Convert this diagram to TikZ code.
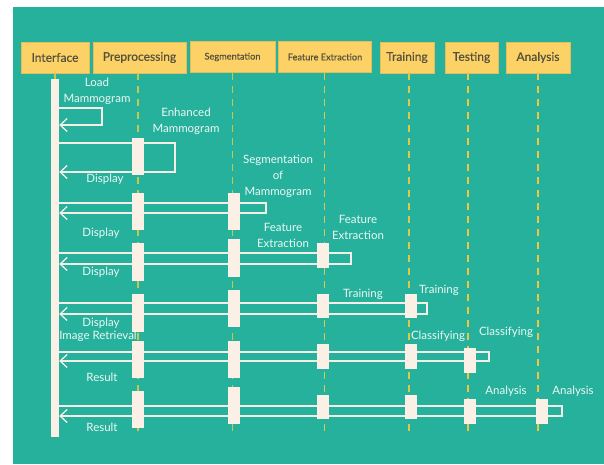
\documentclass[tikz,border=0pt]{standalone}
\usepackage{fontspec}
\setmainfont{Lato}
\newfontfamily\headfont{Lato}[FakeBold=0.35]
\usetikzlibrary{arrows.meta}
\pgfdeclarelayer{back}
\pgfdeclarelayer{mid}
\pgfsetlayers{back,mid,main}
\definecolor{teal}{HTML}{25B19C}
\definecolor{headfill}{HTML}{FCD166}
\definecolor{headtext}{HTML}{55513F}
\definecolor{barcol}{HTML}{FAF0E6}
\definecolor{msgcol}{HTML}{F4EEE4}
\definecolor{labcol}{HTML}{EEF8F4}
\definecolor{lifeA}{HTML}{C6C84C}
\definecolor{lifeB}{HTML}{DCC84A}
\definecolor{lifeC}{HTML}{F2C640}
\tikzset{
  head/.style={fill=headfill, draw=headfill!90!black, line width=0.4pt, minimum height=31, inner sep=0pt,
    text=headtext, font=\headfont\fontsize{12}{14}\selectfont},
  headsmall/.style={head, font=\headfont\fontsize{9.2}{11}\selectfont},
  life/.style={line width=1.5, dash pattern=on 7pt off 6pt},
  actbar/.style={fill=barcol, draw=none, minimum width=12, inner sep=0pt},
  msg/.style={draw=msgcol, line width=1.3},
  msgarrow/.style={msg, -{Straight Barb[length=7pt,width=13pt,line width=1.3pt]}},
  lab/.style={text=labcol, font=\fontsize{11.5}{16}\selectfont, align=center, inner sep=0pt}
}
\begin{document}
\begin{tikzpicture}[x=1pt,y=-1pt]
\useasboundingbox (0,0) rectangle (604,464);
\begin{pgfonlayer}{back}
\fill[white] (0,0) rectangle (604,464);
\fill[teal] (13,7) rectangle (604,464);
\end{pgfonlayer}

% headers
\node[head, minimum width=68] (hI) at (55,57.5) {Interface};
\node[head, minimum width=93] (hP) at (139.5,57.5) {Preprocessing};
\node[headsmall, minimum width=85] (hS) at (232.5,57) {Segmentation};
\node[headsmall, minimum width=93] (hF) at (325,57) {Feature Extraction};
\node[head, minimum width=54] (hTr) at (407,57.5) {Training};
\node[head, minimum width=53] (hTe) at (471.5,57.5) {Testing};
\node[head, minimum width=64] (hA) at (538,57.5) {Analysis};

% interface bar
\node[actbar, minimum width=8, minimum height=358] (ibar) at (55,258) {};

% activation bars
\node[actbar, minimum height=37] (P1) at (138,156.5) {};
\node[actbar, minimum height=37] (P2) at (138,211.5) {};
\node[actbar, minimum height=37] (S2) at (234,211.5) {};
\node[actbar, minimum height=38] (P3) at (138,262) {};
\node[actbar, minimum height=38] (S3) at (234,258) {};
\node[actbar, minimum height=25] (F3) at (323,255.5) {};
\node[actbar, minimum height=38] (P4) at (138,313) {};
\node[actbar, minimum height=37] (S4) at (234,308.5) {};
\node[actbar, minimum height=24] (F4) at (323,306) {};
\node[actbar, minimum height=24] (Tr4) at (411,306) {};
\node[actbar, minimum height=37] (P5) at (138,359.5) {};
\node[actbar, minimum height=37] (S5) at (234,359.5) {};
\node[actbar, minimum height=25] (F5) at (323,356.5) {};
\node[actbar, minimum height=25] (Tr5) at (411,356.5) {};
\node[actbar, minimum height=25] (Te5) at (470,360.5) {};
\node[actbar, minimum height=37] (P6) at (138,409.5) {};
\node[actbar, minimum height=37] (S6) at (234,405.5) {};
\node[actbar, minimum height=24] (F6) at (323,407) {};
\node[actbar, minimum height=24] (Tr6) at (411,407) {};
\node[actbar, minimum height=25] (Te6) at (470,411.5) {};
\node[actbar, minimum height=25] (A6) at (542,411.5) {};

% lifeline ends and message corners
\coordinate (eP) at (138,433);
\coordinate (eS) at (232.5,433);
\coordinate (eF) at (324.5,433);
\coordinate (eTr) at (409,433);
\coordinate (eTe) at (468,433);
\coordinate (eA) at (538,433);
\coordinate (m1t) at (102,108); \coordinate (m1b) at (102,125);
\coordinate (m2t) at (175,143); \coordinate (m2b) at (175,172);
\coordinate (m3t) at (266,203); \coordinate (m3b) at (266,213);
\coordinate (m4t) at (351,253); \coordinate (m4b) at (351,264);
\coordinate (m5t) at (427,303); \coordinate (m5b) at (427,314);
\coordinate (m6t) at (489,352); \coordinate (m6b) at (489,361);
\coordinate (m7t) at (562,406); \coordinate (m7b) at (562,416);

\begin{pgfonlayer}{mid}
% lifelines
\draw[life, lifeA] (hI.south) -- (ibar.north);
\draw[life, lifeA] (hP.south -| eP) -- (eP);
\draw[life, lifeA] (hS.south -| eS) -- (eS);
\draw[life, lifeB] (hF.south -| eF) -- (eF);
\draw[life, lifeB] (hTr.south -| eTr) -- (eTr);
\draw[life, lifeC] (hTe.south -| eTe) -- (eTe);
\draw[life, lifeC] (hA.south -| eA) -- (eA);
% messages
\draw[msgarrow] (ibar.east |- m1t) -- (m1t) -- (m1b) -- (ibar.east |- m1b);
\draw[msgarrow] (ibar.east |- m2t) -- (m2t) -- (m2b) -- (ibar.east |- m2b);
\draw[msgarrow] (ibar.east |- m3t) -- (m3t) -- (m3b) -- (ibar.east |- m3b);
\draw[msgarrow] (ibar.east |- m4t) -- (m4t) -- (m4b) -- (ibar.east |- m4b);
\draw[msgarrow] (ibar.east |- m5t) -- (m5t) -- (m5b) -- (ibar.east |- m5b);
\draw[msgarrow] (ibar.east |- m6t) -- (m6t) -- (m6b) -- (ibar.east |- m6b);
\draw[msgarrow] (ibar.east |- m7t) -- (m7t) -- (m7b) -- (ibar.east |- m7b);
% labels
\node[lab] (l1) at (97,91) {Load\\Mammogram};
\node[lab] (l2) at (186,121.5) {Enhanced\\Mammogram};
\node[lab] (l3) at (105,179) {Display};
\node[lab] (l4) at (278,176.5) {Segmentation\\of\\Mammogram};
\node[lab] (l5) at (101,233) {Display};
\node[lab] (l6) at (283,235) {Feature\\Extraction};
\node[lab] (l7) at (358,227) {Feature\\Extraction};
\node[lab] (l8) at (101,272) {Display};
\node[lab] (l9) at (363,294) {Training};
\node[lab] (l10) at (439,290) {Training};
\node[lab] (l11) at (101,323) {Display};
\node[lab] (l12) at (98,336) {Image Retrieval};
\node[lab] (l13) at (438,336) {Classifying};
\node[lab] (l14) at (506,332) {Classifying};
\node[lab] (l15) at (102,377) {Result};
\node[lab] (l16) at (506,391) {Analysis};
\node[lab] (l17) at (573,391) {Analysis};
\node[lab] (l18) at (102,427) {Result};
\end{pgfonlayer}
\end{tikzpicture}
\end{document}
